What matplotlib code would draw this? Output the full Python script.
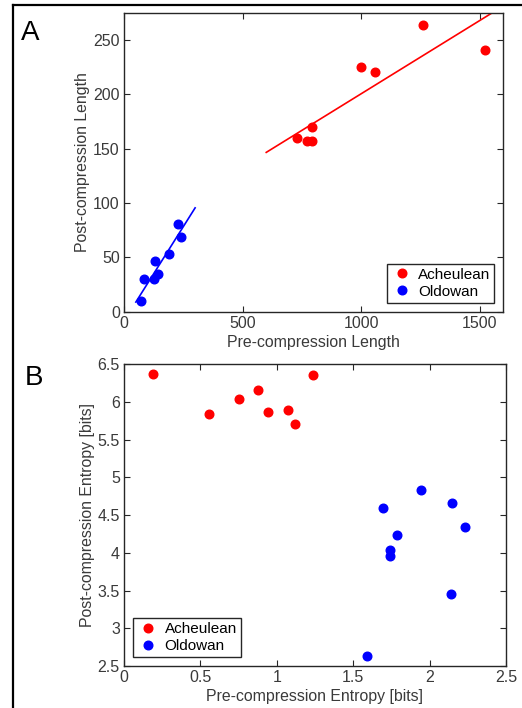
import numpy as np
import matplotlib
matplotlib.use("Agg")
import matplotlib.pyplot as plt
from matplotlib.lines import Line2D

plt.rcParams["font.family"] = ["Liberation Sans", "DejaVu Sans"]

# Panel A: compression lengths
acheu_pre_len = [728, 770, 791, 794, 999, 1059, 1261, 1523]
acheu_post_len = [160, 156.6, 156.6, 170.3, 224.9, 220.3, 263.5, 240.8]
oldo_pre_len = [70, 84, 128, 132, 145, 188, 227, 239]
oldo_post_len = [9.8, 29.7, 29.7, 46.9, 34.6, 53, 80.6, 68.3]
fit_range_acheu = [600, 1600]
fit_range_oldo = [50, 300]

# Panel B: entropies
acheu_pre_ent = [0.192, 0.559, 0.753, 0.876, 0.945, 1.072, 1.118, 1.240]
acheu_post_ent = [6.376, 5.841, 6.040, 6.155, 5.864, 5.899, 5.713, 6.354]
oldo_pre_ent = [1.590, 1.694, 1.738, 1.738, 1.786, 1.945, 2.142, 2.148, 2.229]
oldo_post_ent = [2.633, 4.595, 4.043, 3.954, 4.237, 4.829, 3.455, 4.657, 4.339]

red = "#ff0000"
blue = "#0000ff"
txt = "#3a3a3a"

fig = plt.figure(figsize=(5.22, 7.08), dpi=100)
W, H = 522, 708


def style(ax):
    for s in ax.spines.values():
        s.set_color("#262626")
        s.set_linewidth(1.0)
    ax.tick_params(direction="in", top=True, right=True, length=4, width=0.8,
                   colors="#262626", labelcolor=txt, labelsize=11.5, pad=3)


axA = fig.add_axes([124 / W, 1 - 311.7 / H, (503.3 - 124) / W, (311.7 - 12.7) / H])
axA.plot(acheu_pre_len, acheu_post_len, "o", color=red, ms=6.2, label="Acheulean")
axA.plot(oldo_pre_len, oldo_post_len, "o", color=blue, ms=6.2, label="Oldowan")
p = np.polyfit(acheu_pre_len, acheu_post_len, 1)
xs = np.array(fit_range_acheu)
axA.plot(xs, np.polyval(p, xs), "-", color=red, lw=1.2)
p = np.polyfit(oldo_pre_len, oldo_post_len, 1)
xs = np.array(fit_range_oldo)
axA.plot(xs, np.polyval(p, xs), "-", color=blue, lw=1.2)
axA.set_xlim(0, 1600)
axA.set_ylim(0, 275)
axA.set_xticks([0, 500, 1000, 1500])
axA.set_yticks([0, 50, 100, 150, 200, 250])
axA.set_xlabel("Pre-compression Length", fontsize=11.4, color=txt, labelpad=3)
axA.set_ylabel("Post-compression Length", fontsize=11.4, color=txt, labelpad=2)
style(axA)
leg = axA.legend(loc="lower right", fontsize=11, fancybox=False, framealpha=1,
                 edgecolor="#262626", handletextpad=0.3, borderpad=0.25,
                 labelspacing=0.2, handlelength=1.5, borderaxespad=0.6)
leg.get_frame().set_linewidth(1.0)

axB = fig.add_axes([124 / W, 1 - 666 / H, (506 - 124) / W, (666 - 364.3) / H])
axB.plot(acheu_pre_ent, acheu_post_ent, "o", color=red, ms=6.2, label="Acheulean")
axB.plot(oldo_pre_ent, oldo_post_ent, "o", color=blue, ms=6.2, label="Oldowan")
axB.set_xlim(0, 2.5)
axB.set_ylim(2.5, 6.5)
axB.set_xticks([0, 0.5, 1, 1.5, 2, 2.5])
axB.set_xticklabels(["0", "0.5", "1", "1.5", "2", "2.5"])
axB.set_yticks([2.5, 3, 3.5, 4, 4.5, 5, 5.5, 6, 6.5])
axB.set_yticklabels(["2.5", "3", "3.5", "4", "4.5", "5", "5.5", "6", "6.5"])
axB.set_xlabel("Pre-compression Entropy [bits]", fontsize=11.4, color=txt, labelpad=3)
axB.set_ylabel("Post-compression Entropy [bits]", fontsize=11.4, color=txt, labelpad=2)
style(axB)
leg = axB.legend(loc="lower left", fontsize=11, fancybox=False, framealpha=1,
                 edgecolor="#262626", handletextpad=0.3, borderpad=0.25,
                 labelspacing=0.2, handlelength=1.5, borderaxespad=0.6)
leg.get_frame().set_linewidth(1.0)

# panel letters
fig.text(21 / W, 1 - 40 / H, "A", fontsize=20, color="black")
fig.text(25 / W, 1 - 385 / H, "B", fontsize=20, color="black")

# outer frame (top and left edges)
fig.add_artist(Line2D([13 / W, 1], [1 - 5 / H, 1 - 5 / H], color="black", lw=1.6))
fig.add_artist(Line2D([13 / W, 13 / W], [0, 1 - 5 / H], color="black", lw=1.6))

fig.savefig("out.png", dpi=100)
